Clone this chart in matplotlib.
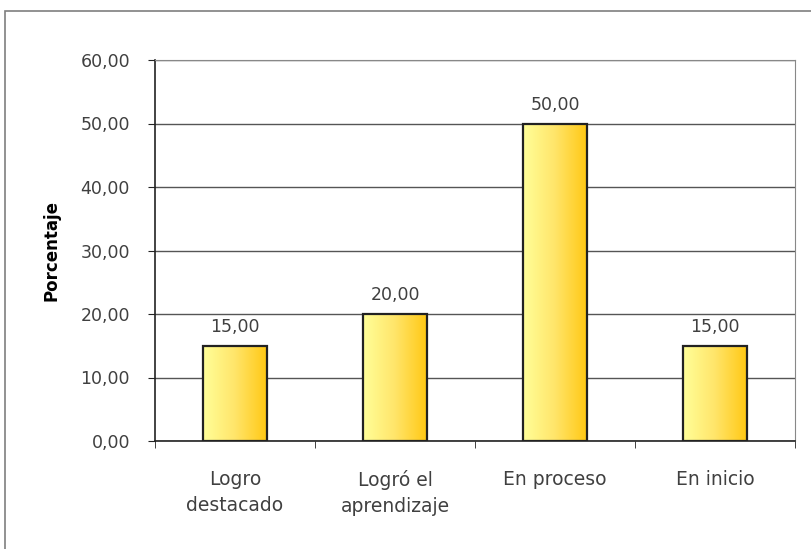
import numpy as np
import matplotlib.pyplot as plt
from matplotlib.colors import LinearSegmentedColormap
from matplotlib.patches import Rectangle

# data
categories = ["Logro\ndestacado", "Logró el\naprendizaje", "En proceso", "En inicio"]
values = [15.0, 20.0, 50.0, 15.0]
yticks = [0, 10, 20, 30, 40, 50, 60]

plt.rcParams.update({
    "font.family": ["DejaVu Sans"],
    "font.size": 12.5,
})

fig = plt.figure(figsize=(8.11, 5.49), dpi=100)
# outer chart frame
fig.patches.append(Rectangle((5 / 811, -0.01), 1.0, 1 - 11 / 549 + 0.01,
                             transform=fig.transFigure, fill=False,
                             edgecolor="#7f7f7f", linewidth=1.2))

ax = fig.add_axes([155 / 811, 1 - 441 / 549, 640 / 811, 381 / 549])

x = np.arange(len(values))
bars = ax.bar(x, values, width=0.4, facecolor="none", edgecolor="#222222",
              linewidth=1.6, zorder=3)

# horizontal gradient light yellow -> gold inside each bar
cmap = LinearSegmentedColormap.from_list("gold", ["#FFFF99", "#FFE56A", "#FFC814"])
grad = np.linspace(0, 1, 256).reshape(1, -1)
for b in bars:
    x0, y0 = b.get_x(), b.get_y()
    w, h = b.get_width(), b.get_height()
    im = ax.imshow(grad, cmap=cmap, aspect="auto", extent=[x0, x0 + w, y0, y0 + h],
                   zorder=2, interpolation="bicubic")
    im.set_clip_path(b)

for xi, v in zip(x, values):
    ax.text(xi, v + 2.2, f"{v:.2f}".replace(".", ","), ha="center", va="baseline",
            color="#404040", fontsize=12.5)

ax.set_xlim(-0.5, len(values) - 0.5)
ax.set_ylim(0, 60)
ax.set_yticks(yticks)
ax.set_yticklabels([f"{t:.2f}".replace(".", ",") for t in yticks], color="#404040")
ax.yaxis.grid(True, color="#555555", linewidth=1.0, zorder=0)
ax.set_axisbelow(True)

ax.set_xticks(x)
ax.set_xticklabels(categories, color="#404040", fontsize=13.5, linespacing=1.45)
ax.set_xticks(np.arange(len(values) + 1) - 0.5, minor=True)
ax.tick_params(axis="x", which="major", length=0, pad=21)
ax.tick_params(axis="x", which="minor", length=5, direction="out", color="#222222")
ax.tick_params(axis="y", length=5, direction="out", color="#222222", pad=13)

ax.spines["left"].set_color("#222222")
ax.spines["bottom"].set_color("#222222")
ax.spines["left"].set_linewidth(1.2)
ax.spines["bottom"].set_linewidth(1.2)
ax.spines["top"].set_color("#888888")
ax.spines["right"].set_color("#888888")

ax.set_ylabel("Porcentaje", fontweight="bold", fontsize=12)
ax.yaxis.set_label_coords(-0.147, 0.5)

fig.savefig("out.png", dpi=100)
